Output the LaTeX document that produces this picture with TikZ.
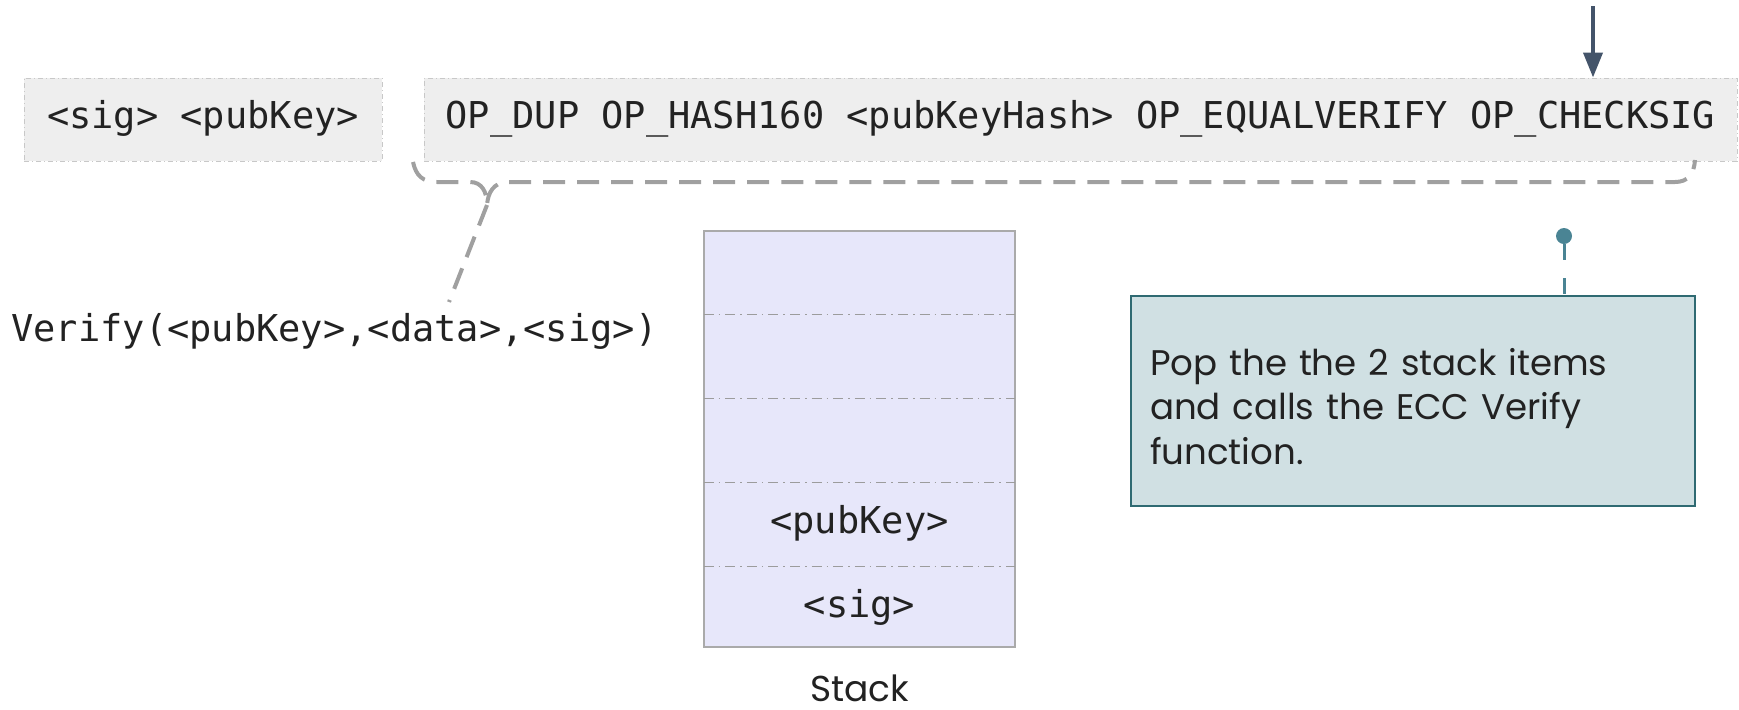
\documentclass[tikz,border=0pt]{standalone}
\usepackage{fontspec}
\setmonofont{DejaVu Sans Mono}
\newfontfamily\notefont{Poppins}
\usetikzlibrary{arrows.meta}

\definecolor{ink}{HTML}{222222}
\definecolor{scriptfill}{HTML}{EEEEEE}
\definecolor{scriptline}{HTML}{C8C8C8}
\definecolor{bracegray}{HTML}{A0A0A0}
\definecolor{stackfill}{HTML}{E7E7FA}
\definecolor{stackline}{HTML}{AAAAAA}
\definecolor{rowline}{HTML}{9C9C9C}
\definecolor{notefill}{HTML}{D0E0E3}
\definecolor{noteline}{HTML}{2F6A72}
\definecolor{pincolor}{HTML}{4A8494}
\definecolor{pointer}{HTML}{44546A}

\tikzset{
  code/.style={font=\ttfamily\fontsize{18.5}{22}\selectfont, text=ink},
  scriptbox/.style={code, draw=scriptline, fill=scriptfill, line width=0.5pt,
    dash pattern=on 2.5pt off 1.5pt on 0.5pt off 1.5pt,
    minimum height=41.5pt, inner sep=0pt,
    text height=1.05em, text depth=0.13em},
  cell/.style={code, minimum width=155.5pt, minimum height=41.6pt, inner sep=0pt,
    text height=1.02em, text depth=0.13em},
  rowsep/.style={draw=rowline, line width=0.6pt,
    dash pattern=on 5pt off 2.5pt on 0.8pt off 2.5pt},
  bracepath/.style={draw=bracegray, line width=2pt, dash pattern=on 11pt off 6pt},
  notebox/.style={draw=noteline, fill=notefill, line width=0.8pt,
    minimum width=282pt, minimum height=105pt, text width=263pt, align=left,
    inner xsep=9.5pt, text=ink,
    font=\notefont\fontsize{17.8}{22.3}\selectfont},
  pin/.style={circle, fill=pincolor, inner sep=0pt, minimum size=8pt},
  pinline/.style={draw=pincolor, line width=1.5pt, dash pattern=on 8pt off 9pt},
  pointerline/.style={draw=pointer, line width=2pt,
    -{Triangle[width=9.5pt,length=12.5pt]}},
  caption/.style={text=ink, inner sep=0pt, font=\notefont\fontsize{18}{22}\selectfont}
}

\begin{document}
\begin{tikzpicture}[x=0.5pt, y=-0.5pt]
\useasboundingbox (0,0) rectangle (1739,709);

% unlocking and locking scripts
\node[scriptbox, minimum width=179pt] (unlock) at (203,119.5) {<sig> <pubKey>};
\node[scriptbox, minimum width=656.5pt] (lock) at (1080.5,119.5)
  {OP\_DUP OP\_HASH160 <pubKeyHash> OP\_EQUALVERIFY OP\_CHECKSIG};

% execution pointer
\coordinate (ptrstart) at (1593,6);
\draw[pointerline] (ptrstart) -- (ptrstart |- lock.north);

% brace under the locking script
\coordinate (bl) at (413,162);
\coordinate (tip) at (487,205);
\coordinate (br) at (1695,160);
\draw[bracepath] (bl) .. controls (416,176) and (423,182) .. (437,182)
  -- (470,182) .. controls (482,182) and (487,192) .. (tip)
  .. controls (488,192) and (494,183) .. (506,182)
  -- (1675,182) .. controls (1688,182) and (1694,174) .. (br);

% call performed by OP_CHECKSIG
\node[code, anchor=base west, inner sep=0pt] (verify) at (11,341)
  {Verify(<pubKey>,<data>,<sig>)};
\coordinate (vend) at (449,302);
\draw[bracepath] (tip) -- (vend);

% the stack
\node[draw=stackline, fill=stackfill, line width=0.8pt, minimum width=155.5pt,
  minimum height=208pt, inner sep=0pt] (stack) at (859.5,439) {};
\node[cell, anchor=north] (c1) at (stack.north) {};
\node[cell, anchor=north] (c2) at (c1.south) {};
\node[cell, anchor=north] (c3) at (c2.south) {};
\node[cell, anchor=north] (c4) at (c3.south) {<pubKey>};
\node[cell, anchor=north] (c5) at (c4.south) {<sig>};
\foreach \c in {c1,c2,c3,c4}
  \draw[rowsep] (\c.south west) -- (\c.south east);
\node[caption, anchor=base] (stacklabel) at ([yshift=-27pt]stack.south) {Stack};

% explanatory note
\node[notebox] (note) at (1413,401)
  {\rule{0pt}{19pt}Pop the the 2 stack items and calls the ECC Verify function.};
\node[pin] (dot) at (1564,236) {};
\draw[pinline] (dot) -- (dot |- note.north);
\end{tikzpicture}
\end{document}
